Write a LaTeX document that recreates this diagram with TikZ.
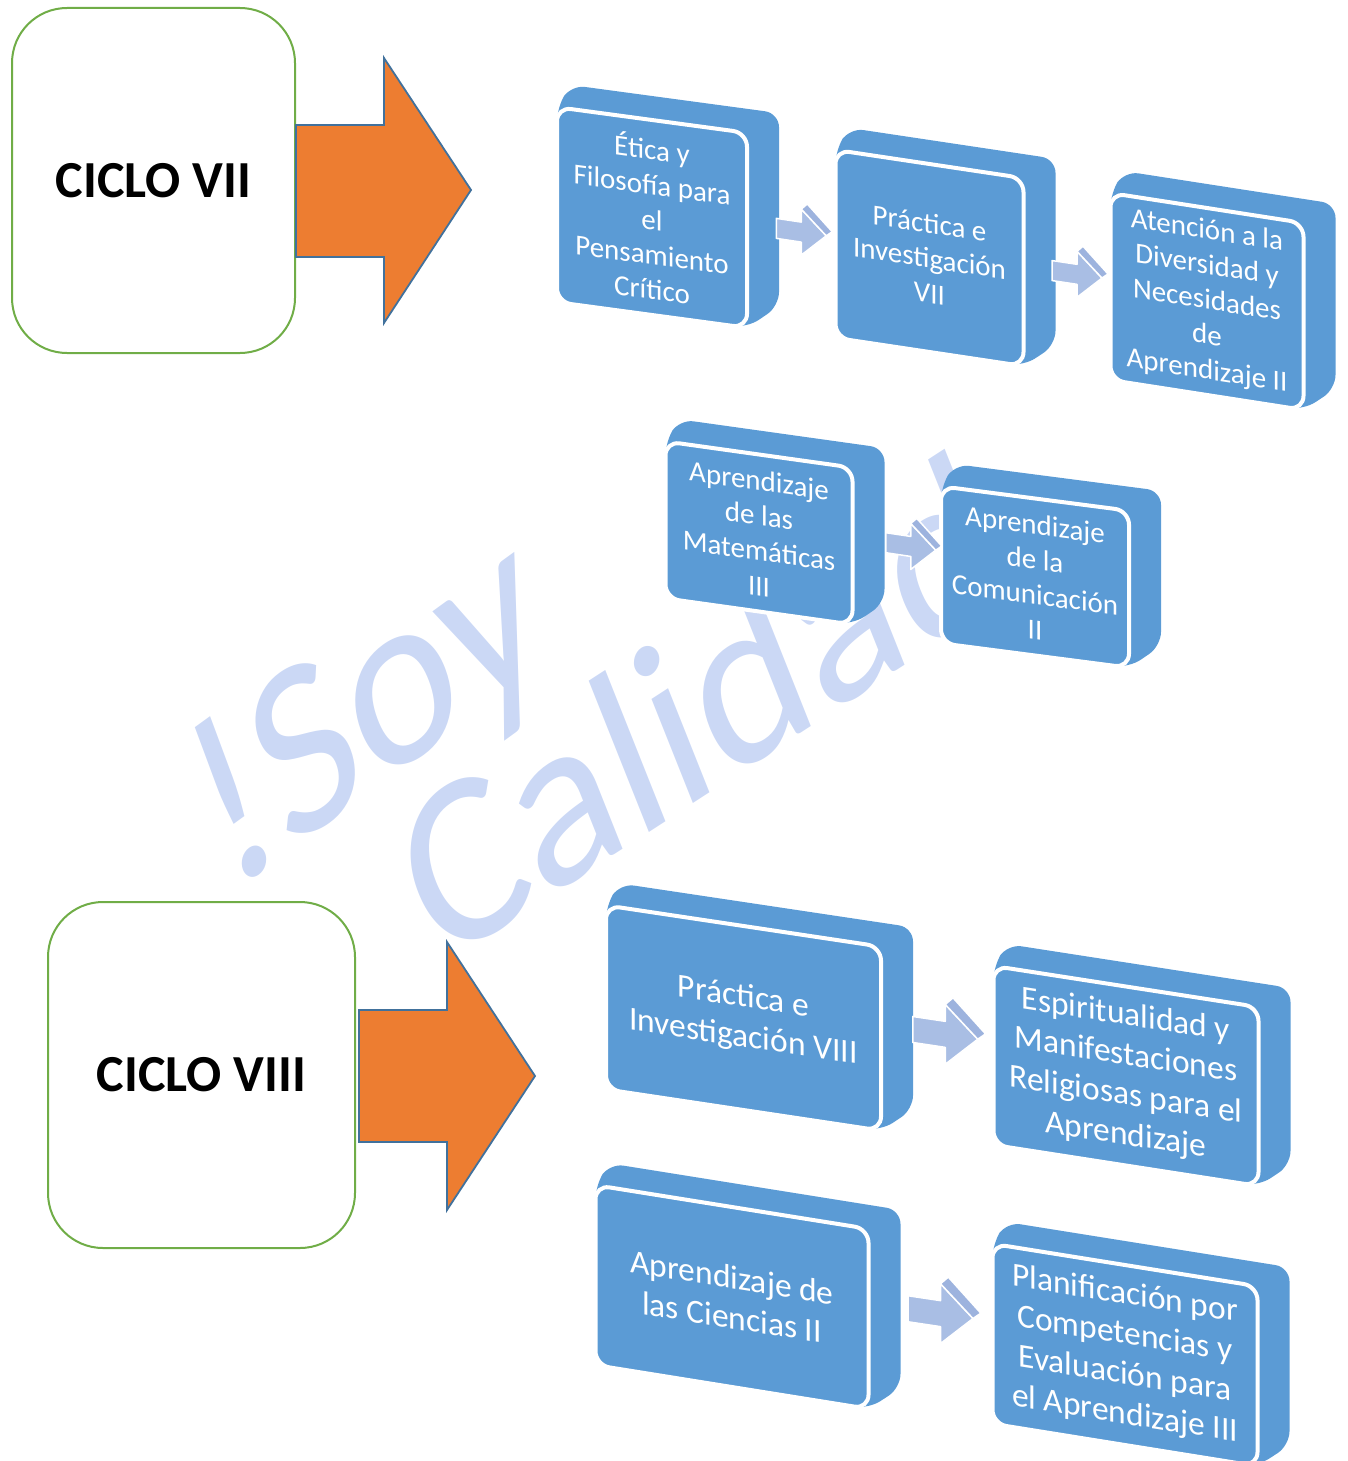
\documentclass[tikz,border=0pt]{standalone}
\usepackage{fontspec}
\setmainfont{Carlito}
\usetikzlibrary{calc}
\definecolor{boxblue}{HTML}{5B9BD5}
\definecolor{arrowblue}{HTML}{A9BEE4}
\definecolor{arrowtop}{HTML}{9DB3DE}
\definecolor{orangefill}{HTML}{ED7D31}
\definecolor{orangeline}{HTML}{41719C}
\definecolor{cyclegreen}{HTML}{70AD47}
\definecolor{wmblue}{HTML}{CBD8F5}
\tikzset{
 cyclebox/.style={draw=cyclegreen, line width=2pt, rounded corners=55pt, fill=white,
   font=\fontsize{52}{60}\selectfont\bfseries, text=black, inner sep=0pt},
 frontface/.style={fill=boxblue, draw=white, line width=4pt, rounded corners=14pt,
   text=white, align=center, inner sep=0pt},
 backface/.style={fill=boxblue, rounded corners=14pt},
 bigarrow/.style={fill=orangefill, draw=orangeline, line width=1.8pt, line join=miter},
 smallarrow/.style={fill=arrowblue, draw=white, line width=1.5pt, line join=round},
 smalltop/.style={fill=arrowtop, draw=white, line width=1.5pt, line join=round},
 watermark/.style={text=wmblue, font=\fontsize{230}{230}\selectfont, inner sep=0pt},
 topfont/.style={font=\fontsize{29}{35}\selectfont},
 lowfont/.style={font=\fontsize{33.5}{40}\selectfont},
}
% name, cx, cy, w, h, slant, font style, text
\newcommand\studybox[8]{%
 \begin{scope}[shift={(#2,#3)}, yslant=#6]
  \fill[backface] (-#4/2+14,-#5/2-24) -- (#4/2+32,-#5/2-24) -- (#4/2+32,#5/2-26)
     -- (#4/2,#5/2) -- (-#4/2,#5/2) -- (-#4/2,-#5/2) -- cycle;
  \node[frontface, #7, transform shape, minimum width=#4pt, minimum height=#5pt] (#1) at (0,0) {#8};
 \end{scope}}
% coordinate name, from node, to node, shift, scale
\newcommand\linkarrow[5]{%
 \coordinate (#1) at ($(#2.east)!0.5!(#3.west)+#4$);
 \begin{scope}[shift={(#1)}, yslant=-0.15, scale=#5]
  \draw[smallarrow] (-25,-9) -- (0,-9) -- (0,-22) -- (25,1) -- (0,24) -- (0,11) -- (-25,11) -- cycle;
  \draw[smalltop] (0,-22) -- (6,-28) -- (31,-4) -- (25,1) -- cycle;
 \end{scope}}
\begin{document}
\begin{tikzpicture}[x=1pt,y=-1pt]
\useasboundingbox (0,0) rectangle (1348,1461);

% watermark
\node[watermark, anchor=base west, rotate=36, xslant=0.28] (wm1) at (228,896) {!Soy};
\node[watermark, anchor=base west, rotate=33, xslant=0.2] (wm2) at (440,968) {Calidad};

% cycle boxes
\node[cyclebox, minimum width=283pt, minimum height=345pt] (c7) at (153.5,180.5) {CICLO VII};
\node[cyclebox, minimum width=307pt, minimum height=346pt] (c8) at (201.5,1075) {CICLO VIII};

% orange arrows
\begin{scope}[shift={(c7.east)}]
 \draw[bigarrow] (0,-55.5) -- (88,-55.5) -- (88,-122.5) -- (175,9.5) -- (88,142.5) -- (88,76.5) -- (0,76.5) -- cycle;
\end{scope}
\begin{scope}[shift={(c8.east)}]
 \draw[bigarrow] (3,-65) -- (91,-65) -- (91,-133) -- (179,1) -- (91,135) -- (91,67) -- (3,67) -- cycle;
\end{scope}

% study boxes
\studybox{b1}{652}{217.5}{190}{195}{-0.135}{topfont}{Ética y\\Filosofía para\\el\\Pensamiento\\Crítico}
\studybox{b2}{929.5}{258}{188}{188}{-0.15}{topfont}{Práctica e\\Investigación\\VII}
\studybox{b3}{1207}{301.5}{193}{187}{-0.155}{topfont}{Atención a la\\Diversidad y\\Necesidades\\de\\Aprendizaje II}
\studybox{b4}{759}{533}{187}{157}{-0.14}{topfont}{Aprendizaje\\de las\\Matemáticas\\III}
\studybox{b5}{1035}{577}{188}{157}{-0.13}{topfont}{Aprendizaje\\de la\\Comunicación\\II}
\studybox{b6}{743.5}{1018}{275}{184}{-0.15}{lowfont}{Práctica e\\Investigación VIII}
\studybox{b7}{1126}{1076}{265}{179}{-0.155}{lowfont}{Espiritualidad y\\Manifestaciones\\Religiosas para el\\Aprendizaje}
\studybox{b8}{732}{1297}{273}{180}{-0.16}{lowfont}{Aprendizaje de\\las Ciencias II}
\studybox{b9}{1125}{1355}{265}{180}{-0.16}{lowfont}{Planificación por\\Competencias y\\Evaluación para\\el Aprendizaje III}

% link arrows
\linkarrow{m1}{b1}{b2}{(10,-6)}{1}
\linkarrow{m2}{b2}{b3}{(10,-6)}{1}
\linkarrow{m3}{b4}{b5}{(14,-10)}{1}
\linkarrow{m4}{b6}{b7}{(8,-14)}{1.3}
\linkarrow{m5}{b8}{b9}{(10,-14)}{1.3}
\end{tikzpicture}
\end{document}
